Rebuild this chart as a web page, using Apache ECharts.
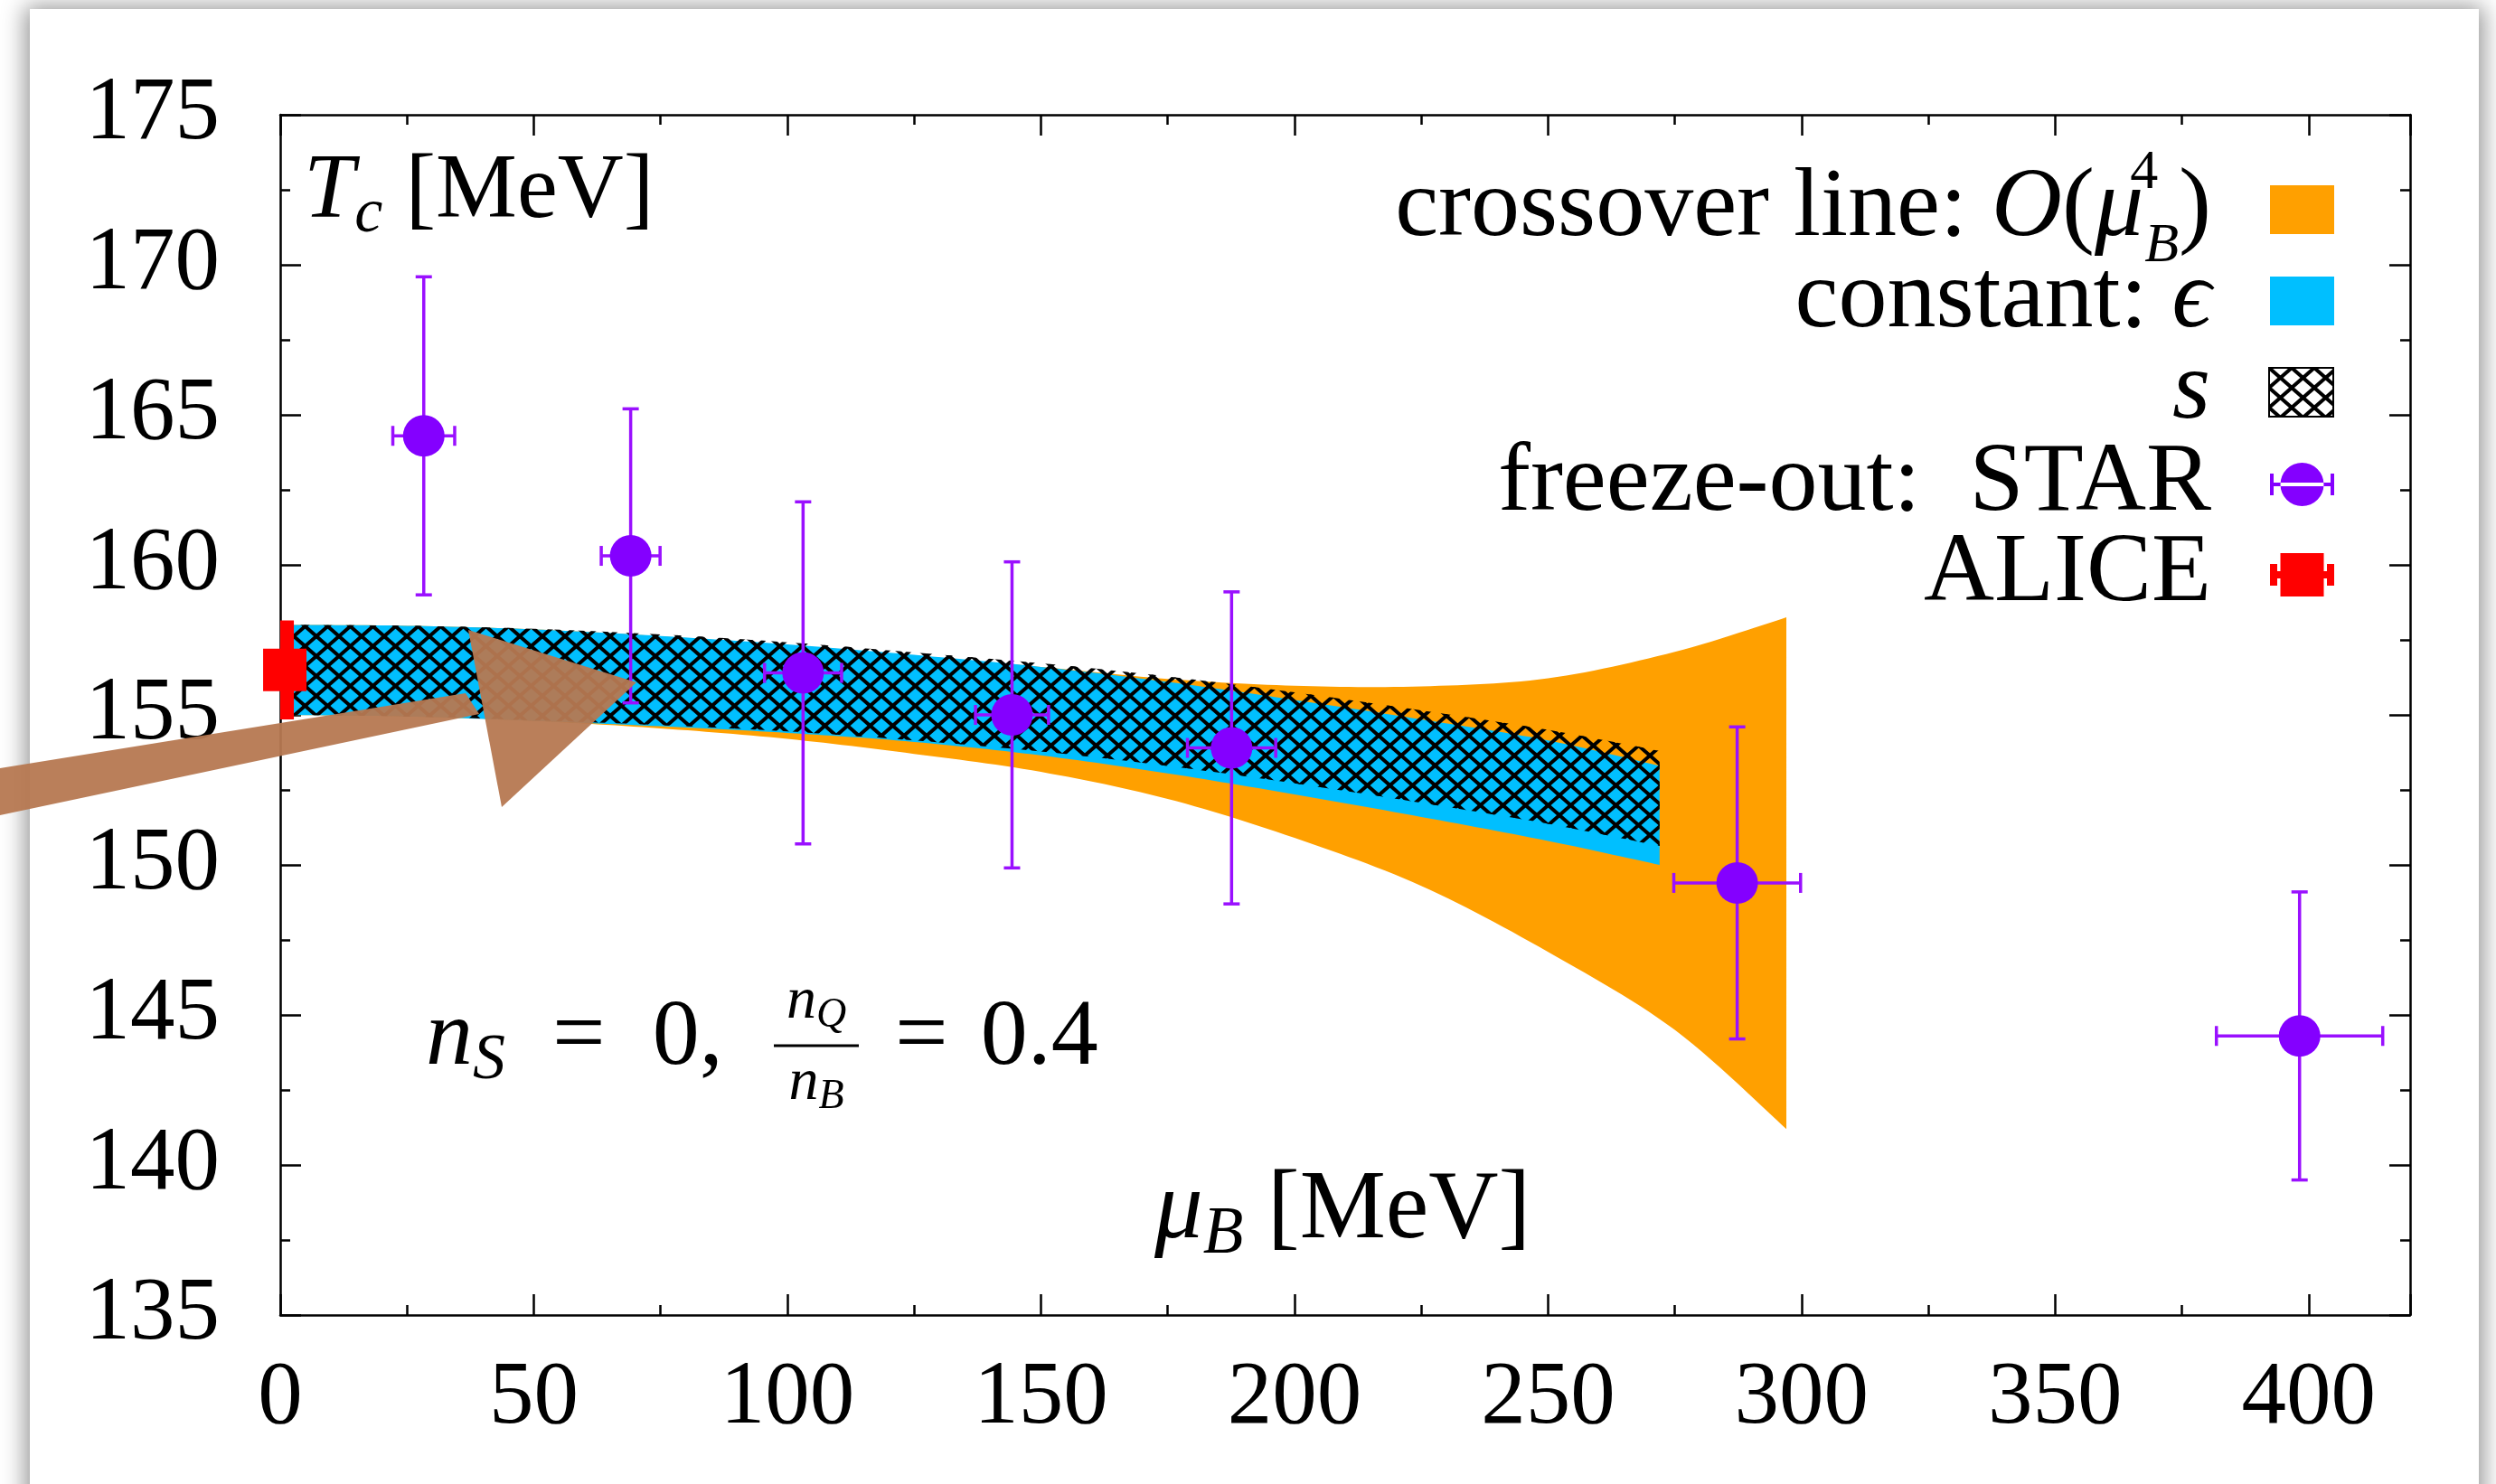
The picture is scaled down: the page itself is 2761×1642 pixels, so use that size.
<!DOCTYPE html>
<html><head><meta charset="utf-8">
<script src="https://cdn.jsdelivr.net/npm/echarts@6/dist/echarts.min.js"></script>
<style>
html,body{margin:0;padding:0;width:2761px;height:1642px;overflow:hidden;background:#fff;}
#card{position:absolute;left:33px;top:10px;width:2709px;height:1700px;background:#fff;box-shadow:0 2px 24px 5px rgba(0,0,0,0.42);}
#chart{position:absolute;left:0;top:0;width:2761px;height:1642px;}
</style></head><body>
<div id="card"></div><div id="chart"></div>
<script>
// ---------------- data ----------------
const xTicks = [0, 50, 100, 150, 200, 250, 300, 350, 400];
const xMax = 420;
const yTicks = [135, 140, 145, 150, 155, 160, 165, 170, 175];

const starMuB    = [28.3, 69.1, 103.1, 144.3, 187.6, 287.3, 398.2];
const starMuBErr = [6.1, 5.8, 7.6, 7.2, 8.7, 12.5, 16.4];
const starT      = [164.3, 160.3, 156.4, 155.0, 153.9, 149.4, 144.3];
const starTErr   = [5.3, 4.9, 5.7, 5.1, 5.2, 5.2, 4.8];

const aliceMuB  = [0.9];
const aliceT    = [156.5];
const aliceTErr = [1.65];

const orangeMuB = [0, 25, 50, 75, 100, 125, 150, 175, 200, 225, 250, 275, 297];
const orangeHi  = [158.0, 157.97, 157.85, 157.62, 157.33, 156.98, 156.6, 156.2, 155.97, 155.95, 156.22, 157.1, 158.25];
const orangeLo  = [155.0, 154.95, 154.8, 154.55, 154.2, 153.7, 153.1, 152.2, 150.9, 149.3, 147.1, 144.5, 141.2];

const bandMuB = [0, 25, 50, 75, 100, 125, 150, 175, 200, 225, 250, 272];
const epsHi   = [158.0, 157.97, 157.85, 157.63, 157.35, 157.0, 156.6, 156.1, 155.5, 154.85, 154.15, 153.3];
const epsLo   = [155.0, 154.95, 154.8, 154.62, 154.4, 154.1, 153.65, 153.05, 152.35, 151.6, 150.8, 150.0];
const sHi     = [158.0, 157.97, 157.87, 157.68, 157.42, 157.08, 156.72, 156.28, 155.75, 155.15, 154.5, 153.8];
const sLo     = [155.0, 154.95, 154.82, 154.66, 154.45, 154.15, 153.78, 153.3, 152.72, 152.07, 151.37, 150.63];

const legendNames = ['crossover line', 'constant: ϵ', 's', 'freeze-out: STAR', 'ALICE'];

// ---------------- styles ----------------
const FAM = "'Liberation Serif','DejaVu Serif',serif";
const ORANGE = '#ffa000', CYAN = '#00bfff', MARK = '#8400ff', BAR = '#9a10ff', RED = '#ff0000';
const HW = 25, HH = 22, HLW = 4;   // hatch cell width / height / line width (px)

function mathLineHeight(F, f, d) { return Math.round(2 * (0.34 + d) * F + 0.32 * f); }
function mathRich(F, f, d, u, gap) {
  const L = mathLineHeight(F, f, d);
  const hs = Math.max(f, Math.round(2 * ((L / 2 + 0.34 * F - u * F) - 0.34 * f)));
  const base = {fontFamily: FAM, color: '#000'};
  return {
    rm:  Object.assign({}, base, {fontSize: F, lineHeight: L, verticalAlign: 'middle'}),
    it:  Object.assign({}, base, {fontSize: F, lineHeight: L, verticalAlign: 'middle', fontStyle: 'italic'}),
    rmg: Object.assign({}, base, {fontSize: F, lineHeight: L, verticalAlign: 'middle', padding: [0, gap || 0, 0, 0]}),
    itg: Object.assign({}, base, {fontSize: F, lineHeight: L, verticalAlign: 'middle', fontStyle: 'italic', padding: [0, gap || 0, 0, 0]}),
    sub: Object.assign({}, base, {fontSize: f, lineHeight: f, verticalAlign: 'bottom'}),
    subi:Object.assign({}, base, {fontSize: f, lineHeight: f, verticalAlign: 'bottom', fontStyle: 'italic'}),
    sup: Object.assign({}, base, {fontSize: f, lineHeight: hs, verticalAlign: 'top', align: 'left', width: 1})
  };
}

// crosshatch pattern (legend icon)
const pat = document.createElement('canvas');
pat.width = HW; pat.height = HH;
(function () {
  const g = pat.getContext('2d');
  g.strokeStyle = '#000'; g.lineWidth = HLW;
  for (let k = -1; k <= 1; k++) {
    g.beginPath(); g.moveTo(-HW, -HH + HH * k); g.lineTo(2 * HW, 2 * HH + HH * k); g.stroke();
    g.beginPath(); g.moveTo(2 * HW, -HH + HH * k); g.lineTo(-HW, 2 * HH + HH * k); g.stroke();
  }
})();
const HATCH = {image: pat, repeat: 'repeat'};

function spline(p, n) {
  n = n || 14;
  const out = [];
  for (let i = 0; i < p.length - 1; i++) {
    const p0 = p[Math.max(i - 1, 0)], p1 = p[i], p2 = p[i + 1], p3 = p[Math.min(i + 2, p.length - 1)];
    for (let k = 0; k < n; k++) {
      const t = k / n, t2 = t * t, t3 = t2 * t;
      const c = j => 0.5 * (2 * p1[j] + (-p0[j] + p2[j]) * t + (2 * p0[j] - 5 * p1[j] + 4 * p2[j] - p3[j]) * t2 + (-p0[j] + 3 * p1[j] - 3 * p2[j] + p3[j]) * t3);
      out.push([c(0), c(1)]);
    }
  }
  out.push(p[p.length - 1]);
  return out;
}

function bandPoints(api, xs, lo, hi) {
  const up = xs.map((x, i) => api.coord([x, hi[i]]));
  const dn = xs.map((x, i) => api.coord([x, lo[i]]));
  return spline(up).concat(spline(dn).reverse());
}

function bandSeries(name, xs, lo, hi, fill, z) {
  return {
    type: 'custom', name: name, z: z, silent: true,
    data: xs.map((x, i) => [x, lo[i], hi[i]]),
    encode: {x: 0, y: [1, 2]},
    renderItem: function (params, api) {
      if (params.dataIndex !== 0) return null;
      return {type: 'polygon', shape: {points: bandPoints(api, xs, lo, hi)}, style: {fill: fill, stroke: null}};
    }
  };
}

function hatchSeries(name, xs, lo, hi, z) {
  return {
    type: 'custom', name: name, z: z, silent: true,
    data: xs.map((x, i) => [x, lo[i], hi[i]]),
    encode: {x: 0, y: [1, 2]},
    renderItem: function (params, api) {
      if (params.dataIndex !== 0) return null;
      const pts = bandPoints(api, xs, lo, hi);
      let x0 = Infinity, x1 = -Infinity, y0 = Infinity, y1 = -Infinity;
      pts.forEach(p => { x0 = Math.min(x0, p[0]); x1 = Math.max(x1, p[0]); y0 = Math.min(y0, p[1]); y1 = Math.max(y1, p[1]); });
      x0 -= 5; x1 += 5;
      const s = HH / HW;
      const ls = {stroke: '#000', lineWidth: HLW};
      const kids = [];
      const kA = Math.floor((y0 - s * x1) / HH) - 1, kB = Math.ceil((y1 - s * x0) / HH) + 1;
      for (let k = kA; k <= kB; k++) kids.push({type: 'line', shape: {x1: x0, y1: s * x0 + HH * k, x2: x1, y2: s * x1 + HH * k}, style: ls});
      const mA = Math.floor((y0 + s * x0) / HH) - 1, mB = Math.ceil((y1 + s * x1) / HH) + 1;
      for (let m = mA; m <= mB; m++) kids.push({type: 'line', shape: {x1: x0, y1: -s * x0 + HH * m, x2: x1, y2: -s * x1 + HH * m}, style: ls});
      return {type: 'group', clipPath: {type: 'polygon', shape: {points: pts}}, children: kids};
    }
  };
}

const chart = echarts.init(document.getElementById('chart'), null, {renderer: 'canvas'});

const axisCommon = {
  type: 'value',
  axisLine: {show: true, onZero: false, lineStyle: {color: '#000', width: 2.5}},
  axisTick: {show: true, inside: true, length: 23, lineStyle: {color: '#000', width: 2.5}},
  minorTick: {show: true, splitNumber: 2, length: 11, lineStyle: {color: '#000', width: 2.5}},
  splitLine: {show: false},
  minorSplitLine: {show: false}
};
const labelStyle = {color: '#000', fontFamily: FAM, fontSize: 99, lineHeight: 100};

const xBase = Object.assign({}, axisCommon, {min: xTicks[0], max: xMax, interval: xTicks[1] - xTicks[0]});
const yBase = Object.assign({}, axisCommon, {min: yTicks[0], max: yTicks[yTicks.length - 1], interval: yTicks[1] - yTicks[0]});

// legend
const LF = 108;
const LR = mathRich(LF, 62, 0.23, 0.46, 60);
const LR_L = mathLineHeight(LF, 62, 0.23);
const legendText = {
  'crossover line': '{rm|crossover line: }{it|O}{rm|(}{it|μ}{sup|4}{subi|B}{rmg|)}',
  'constant: ϵ': '{rm|constant: }{itg|ϵ}',
  's': '{itg|s}',
  'freeze-out: STAR': '{rm|freeze-out:  }{rmg|STAR}',
  'ALICE': '{rmg|ALICE}'
};
const starIcon = 'path://M11.5,27 A24,24 0 1 0 59.5,27 A24,24 0 1 0 11.5,27 Z M0,25 L71,25 L71,29 L0,29 Z M0,15 L4,15 L4,39 L0,39 Z M67,15 L71,15 L71,39 L67,39 Z';
const aliceIcon = 'path://M11.5,3 L59.5,3 L59.5,51 L11.5,51 Z M0,23 L71,23 L71,31 L0,31 Z M0,15 L8,15 L8,39 L0,39 Z M63,15 L71,15 L71,39 L63,39 Z';
const legendIcons = ['rect', 'rect', 'rect', starIcon, aliceIcon];
const legendStyles = [
  {color: ORANGE, borderWidth: 0},
  {color: CYAN, borderWidth: 0},
  {color: HATCH, borderColor: '#000', borderWidth: 2},
  {color: MARK, borderWidth: 0},
  {color: RED, borderWidth: 0}
];
const legendCenters = [232, 333, 434, 536, 636];
const legends = legendNames.map((n, i) => ({
  show: true, orient: 'vertical', align: 'right', right: 179,
  top: legendCenters[i] - LR_L / 2, padding: 0,
  itemWidth: 71, itemHeight: 54, selectedMode: false, symbolKeepAspect: true,
  data: [{name: n, icon: legendIcons[i], itemStyle: legendStyles[i]}],
  formatter: function (name) { return legendText[name]; },
  textStyle: {color: '#000', fontFamily: FAM, fontSize: LF, lineHeight: LR_L, rich: LR}
}));

// plot texts
const TR = mathRich(101, 70, 0.14, 0.4);
const MR = mathRich(107, 73, 0.13, 0.4);
const NR = mathRich(104, 72, 0.13, 0.4);
const FR = mathRich(66, 46, 0.12, 0.4);
const ER = mathRich(104, 72, 0.13, 0.4, 36);
const BROWN = '#b67851';

const option = {
  animation: false,
  backgroundColor: 'transparent',
  grid: {left: 310, right: 95, top: 127, bottom: 187, containLabel: false},
  xAxis: [
    Object.assign({}, xBase, {position: 'bottom', axisLabel: Object.assign({margin: 43, showMaxLabel: false}, labelStyle)}),
    Object.assign({}, xBase, {position: 'top', axisLabel: {show: false}})
  ],
  yAxis: [
    Object.assign({}, yBase, {position: 'left', axisLabel: Object.assign({margin: 67}, labelStyle)}),
    Object.assign({}, yBase, {position: 'right', axisLabel: {show: false}})
  ],
  legend: legends,
  series: [
    bandSeries('crossover line', orangeMuB, orangeLo, orangeHi, ORANGE, 2),
    bandSeries('constant: ϵ', bandMuB, epsLo, epsHi, CYAN, 3),
    hatchSeries('s', bandMuB, sLo, sHi, 4),
    {
      type: 'custom', name: 'freeze-out: STAR', z: 6,
      data: starMuB.map((x, i) => [x, starT[i], starMuBErr[i], starTErr[i]]),
      encode: {x: 0, y: 1},
      renderItem: function (params, api) {
        const x = api.value(0), y = api.value(1), ex = api.value(2), ey = api.value(3);
        const c = api.coord([x, y]), l = api.coord([x - ex, y]), r = api.coord([x + ex, y]);
        const t = api.coord([x, y + ey]), b = api.coord([x, y - ey]);
        const ls = {stroke: BAR, lineWidth: 3.5};
        const cw = 9, ch = 11;
        return {type: 'group', children: [
          {type: 'line', shape: {x1: t[0], y1: t[1], x2: b[0], y2: b[1]}, style: ls},
          {type: 'line', shape: {x1: l[0], y1: l[1], x2: r[0], y2: r[1]}, style: ls},
          {type: 'line', shape: {x1: t[0] - cw, y1: t[1], x2: t[0] + cw, y2: t[1]}, style: ls},
          {type: 'line', shape: {x1: b[0] - cw, y1: b[1], x2: b[0] + cw, y2: b[1]}, style: ls},
          {type: 'line', shape: {x1: l[0], y1: l[1] - ch, x2: l[0], y2: l[1] + ch}, style: ls},
          {type: 'line', shape: {x1: r[0], y1: r[1] - ch, x2: r[0], y2: r[1] + ch}, style: ls},
          {type: 'circle', shape: {cx: c[0], cy: c[1], r: 23}, style: {fill: MARK}}
        ]};
      }
    },
    {
      type: 'custom', name: 'ALICE', z: 7, clip: true,
      data: aliceMuB.map((x, i) => [x, aliceT[i], aliceTErr[i]]),
      encode: {x: 0, y: 1},
      renderItem: function (params, api) {
        const x = api.value(0), y = api.value(1), ey = api.value(2);
        const t = api.coord([x, y + ey]), b = api.coord([x, y - ey]);
        return {type: 'line', shape: {x1: t[0], y1: t[1], x2: b[0], y2: b[1]}, style: {stroke: RED, lineWidth: 20}};
      }
    },
    {
      type: 'custom', name: 'ALICE', z: 8, clip: false,
      data: aliceMuB.map((x, i) => [x, aliceT[i]]),
      encode: {x: 0, y: 1},
      renderItem: function (params, api) {
        const c = api.coord([api.value(0), api.value(1)]);
        return {type: 'rect', shape: {x: c[0] - 24, y: c[1] - 23.5, width: 48, height: 47}, style: {fill: RED}};
      }
    }
  ],
  graphic: [
    {type: 'text', x: 336, y: 213, z: 10, style: {text: '{it|T}{subi|c}{rm| [MeV]}', rich: TR, verticalAlign: 'middle', align: 'left'}},
    {type: 'text', x: 1277, y: 1341, z: 10, style: {text: '{it|μ}{subi|B}{rm| [MeV]}', rich: MR, verticalAlign: 'middle', align: 'left'}},
    {type: 'text', x: 471, y: 1150, z: 10, style: {text: '{it|n}{subi|S}{rm|  =  0,}', rich: NR, verticalAlign: 'middle', align: 'left'}},
    {type: 'text', x: 903, y: 1109, z: 10, style: {text: '{it|n}{subi|Q}', rich: FR, verticalAlign: 'middle', align: 'center'}},
    {type: 'line', z: 10, shape: {x1: 856, y1: 1157, x2: 950, y2: 1157}, style: {stroke: '#000', lineWidth: 3}},
    {type: 'text', x: 903, y: 1199, z: 10, style: {text: '{it|n}{subi|B}', rich: FR, verticalAlign: 'middle', align: 'center'}},
    {type: 'text', x: 990, y: 1150, z: 10, style: {text: '{rmg|=}{rm|0.4}', rich: ER, verticalAlign: 'middle', align: 'left'}},
    {type: 'polygon', z: 20, shape: {points: [[0, 850], [515, 767], [530, 790], [0, 902]]}, style: {fill: BROWN, opacity: 0.95}},
    {type: 'polygon', z: 20, shape: {points: [[518, 697], [704, 755], [555, 893]]}, style: {fill: BROWN, opacity: 0.95}}
  ]
};
chart.setOption(option);
</script>
</body></html>
